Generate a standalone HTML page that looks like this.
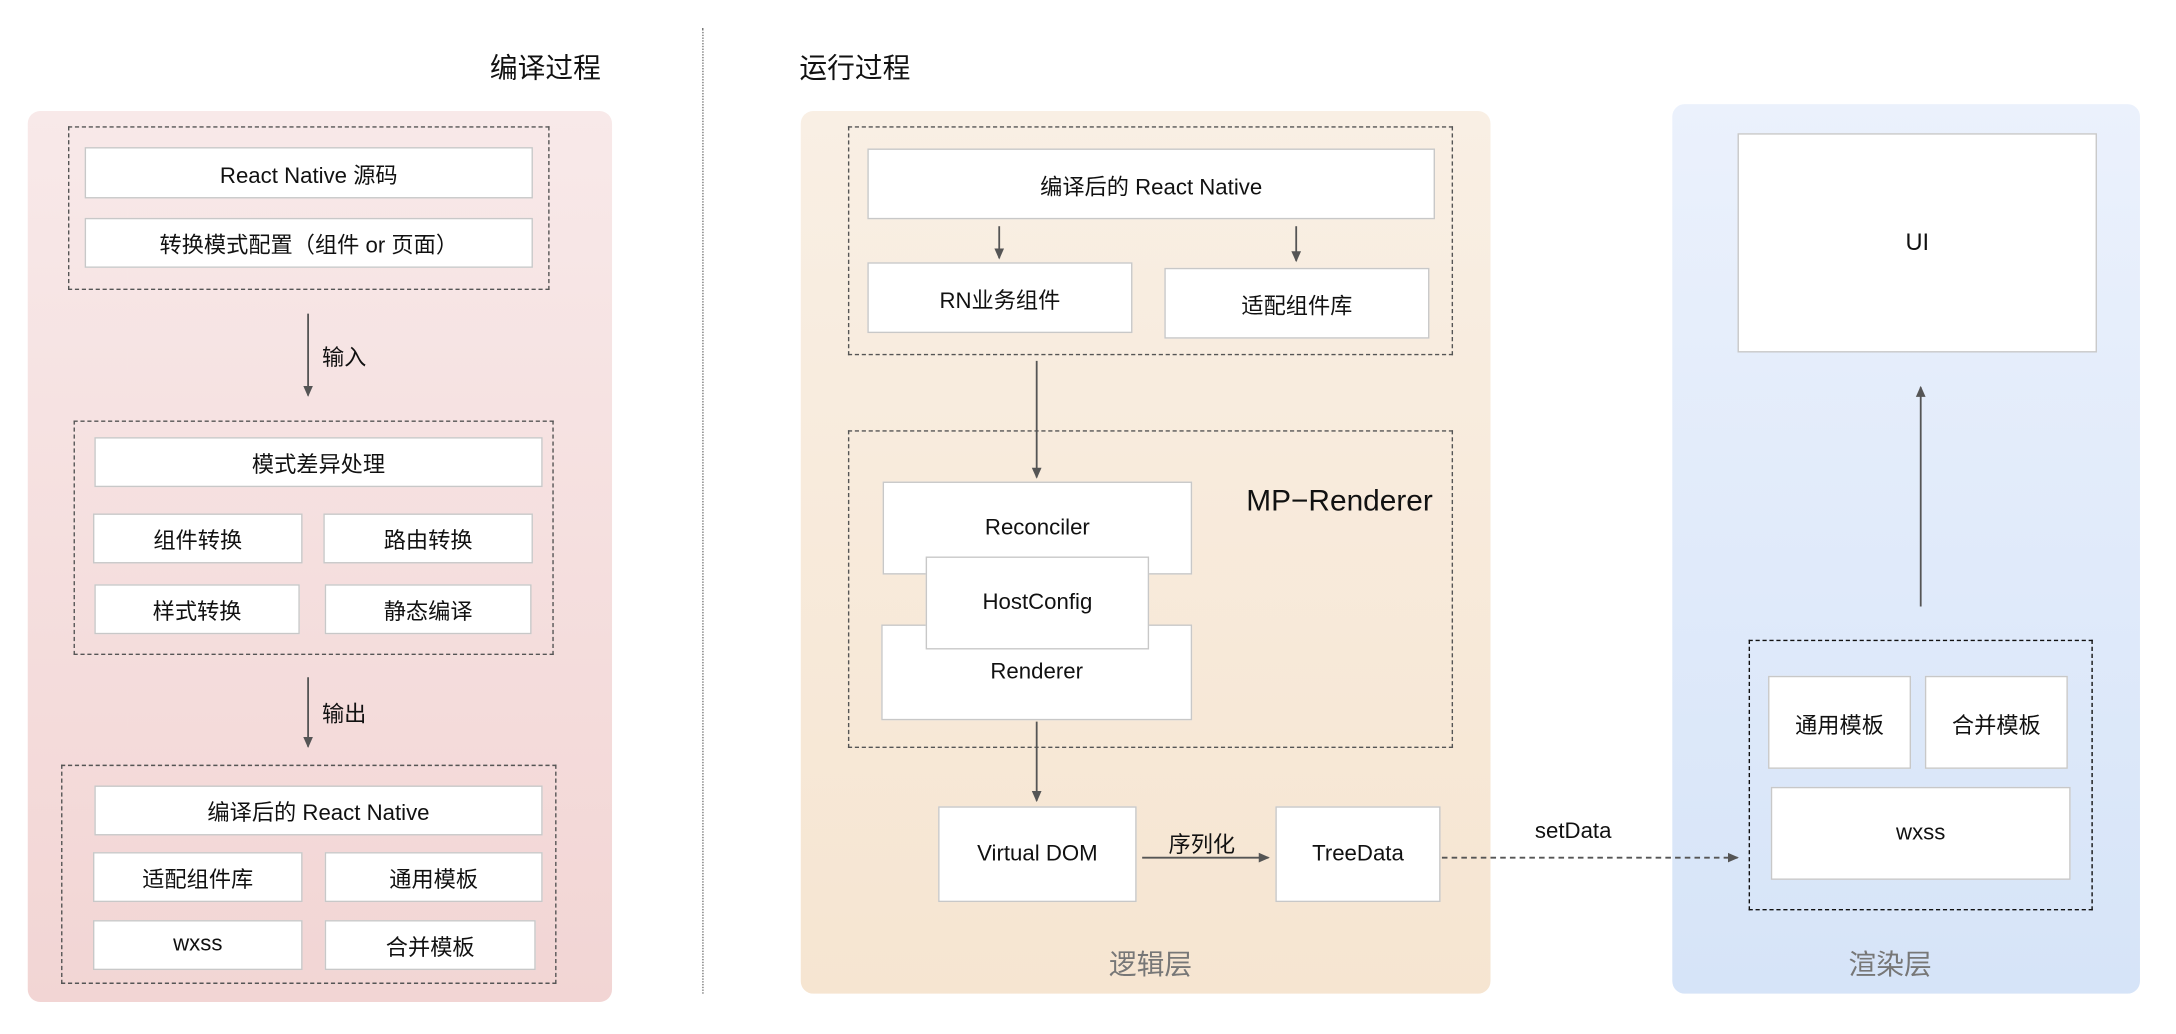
<!DOCTYPE html>
<html><head><meta charset="utf-8"><style>
html,body{margin:0;padding:0;background:#fff;}
body{width:2176px;height:1034px;overflow:hidden;position:relative;}
#w{position:absolute;left:0;top:0;width:1568px;height:745px;transform:scale(1.3878);transform-origin:0 0;font-family:"Liberation Sans","Noto Sans CJK SC",sans-serif;color:#111;}
.a{position:absolute;box-sizing:border-box;}
.b{position:absolute;box-sizing:border-box;background:#fff;border:1px solid #c8c8c8;display:flex;align-items:center;justify-content:center;font-size:16px;}
.d{position:absolute;box-sizing:border-box;border:1px dashed #555;}
.t{position:absolute;font-size:20px;white-space:nowrap;}
.g{position:absolute;font-size:20px;color:#777;white-space:nowrap;transform:translateX(-50%);}
.s{position:absolute;font-size:16px;white-space:nowrap;}
</style></head><body><div id="w">
<div class="t" style="left:353px;top:33px;">编译过程</div>
<div class="t" style="left:576px;top:33px;">运行过程</div>
<div class="a" style="left:506px;top:20px;height:696px;border-left:1.4px dotted #777;"></div>

<!-- left panel -->
<div class="a" style="left:20px;top:80px;width:421px;height:642px;border-radius:9px;background:linear-gradient(#f8e9e9,#f2d5d4);"></div>
<div class="d" style="left:49px;top:91px;width:347px;height:118px;"></div>
<div class="b" style="left:61px;top:106px;width:323px;height:37px;">React Native 源码</div>
<div class="b" style="left:61px;top:157px;width:323px;height:36px;">转换模式配置（组件 or 页面）</div>
<div class="s" style="left:232px;top:244px;">输入</div>
<div class="d" style="left:53px;top:303px;width:346px;height:169px;"></div>
<div class="b" style="left:68px;top:315px;width:323px;height:36px;">模式差异处理</div>
<div class="b" style="left:67px;top:370px;width:151px;height:36px;">组件转换</div>
<div class="b" style="left:233px;top:370px;width:151px;height:36px;">路由转换</div>
<div class="b" style="left:68px;top:421px;width:148px;height:36px;">样式转换</div>
<div class="b" style="left:234px;top:421px;width:149px;height:36px;">静态编译</div>
<div class="s" style="left:232px;top:501px;">输出</div>
<div class="d" style="left:44px;top:551px;width:357px;height:158px;"></div>
<div class="b" style="left:68px;top:566px;width:323px;height:36px;">编译后的 React Native</div>
<div class="b" style="left:67px;top:614px;width:151px;height:36px;">适配组件库</div>
<div class="b" style="left:234px;top:614px;width:157px;height:36px;">通用模板</div>
<div class="b" style="left:67px;top:663px;width:151px;height:36px;">wxss</div>
<div class="b" style="left:234px;top:663px;width:152px;height:36px;">合并模板</div>

<!-- middle panel -->
<div class="a" style="left:577px;top:80px;width:497px;height:636px;border-radius:9px;background:linear-gradient(#f9efe4,#f6e5d1);"></div>
<div class="d" style="left:611px;top:91px;width:436px;height:165px;"></div>
<div class="b" style="left:625px;top:107px;width:409px;height:51px;">编译后的 React Native</div>
<div class="b" style="left:625px;top:189px;width:191px;height:51px;">RN业务组件</div>
<div class="b" style="left:839px;top:193px;width:191px;height:51px;">适配组件库</div>
<div class="d" style="left:611px;top:310px;width:436px;height:229px;"></div>
<div class="t" style="left:898px;top:349px;font-size:21.5px;">MP−Renderer</div>
<div class="b" style="left:636px;top:347px;width:223px;height:67px;">Reconciler</div>
<div class="b" style="left:635px;top:450px;width:224px;height:69px;">Renderer</div>
<div class="b" style="left:667px;top:401px;width:161px;height:67px;">HostConfig</div>
<div class="b" style="left:676px;top:581px;width:143px;height:69px;">Virtual DOM</div>
<div class="b" style="left:919px;top:581px;width:119px;height:69px;">TreeData</div>
<div class="s" style="left:842px;top:595px;">序列化</div>
<div class="s" style="left:1106px;top:591px;">setData</div>
<div class="g" style="left:829px;top:679px;">逻辑层</div>

<!-- right panel -->
<div class="a" style="left:1205px;top:75px;width:337px;height:641px;border-radius:9px;background:linear-gradient(#ebf1fc,#d6e4f8);"></div>
<div class="b" style="left:1252px;top:96px;width:259px;height:158px;font-size:17px;">UI</div>
<div class="a" style="left:1260px;top:461px;width:248px;height:195px;border:1.4px dashed #111;"></div>
<div class="b" style="left:1274px;top:487px;width:103px;height:67px;">通用模板</div>
<div class="b" style="left:1387px;top:487px;width:103px;height:67px;">合并模板</div>
<div class="b" style="left:1276px;top:567px;width:216px;height:67px;">wxss</div>
<div class="g" style="left:1362px;top:679px;">渲染层</div>

<svg class="a" style="left:0;top:0;" width="1568" height="745" viewBox="0 0 1568 745">
<defs><marker id="m" markerWidth="8" markerHeight="8" refX="7" refY="4" orient="auto" markerUnits="userSpaceOnUse"><path d="M0,0.5 L8,4 L0,7.5 z" fill="#555"/></marker></defs>
<g stroke="#555" stroke-width="1.3" fill="none">
<line x1="222" y1="226" x2="222" y2="285" marker-end="url(#m)"/>
<line x1="222" y1="488" x2="222" y2="538" marker-end="url(#m)"/>
<line x1="720" y1="163" x2="720" y2="186" marker-end="url(#m)"/>
<line x1="934" y1="163" x2="934" y2="188" marker-end="url(#m)"/>
<line x1="747" y1="260" x2="747" y2="344" marker-end="url(#m)"/>
<line x1="747" y1="520" x2="747" y2="577" marker-end="url(#m)"/>
<line x1="823" y1="618" x2="914" y2="618" marker-end="url(#m)"/>
<line x1="1039" y1="618" x2="1252" y2="618" stroke-dasharray="4,3" marker-end="url(#m)"/>
<line x1="1384" y1="437" x2="1384" y2="279" marker-end="url(#m)"/>
</g>
</svg>
</div></body></html>
